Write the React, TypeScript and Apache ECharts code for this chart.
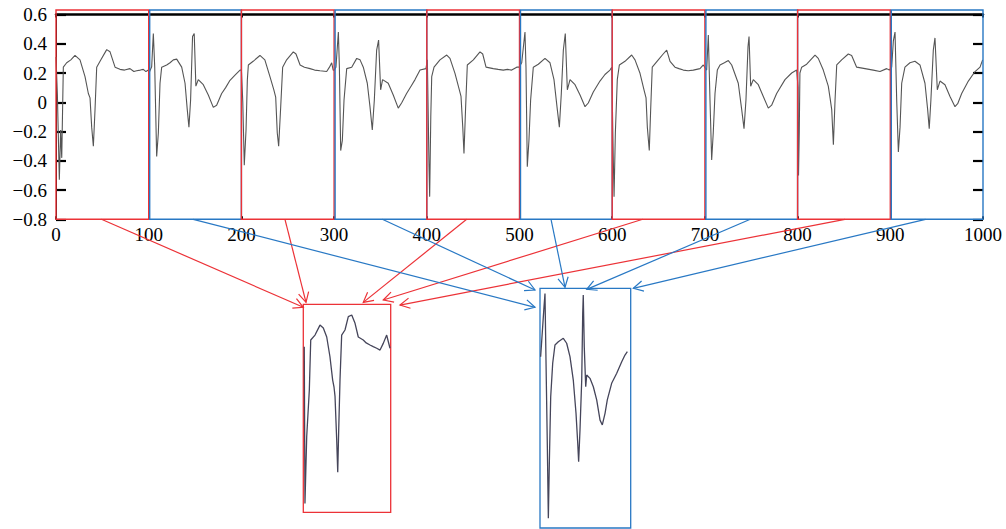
import React, { useEffect, useRef } from "react";
import * as echarts from "echarts";

// ---------- data ----------
const xMin = 0;
const xMax = 1000;
const yMin = -0.8;
const yMax = 0.6;
const windowStarts = [0, 100, 200, 300, 400, 500, 600, 700, 800, 900];
const windowKinds = [0, 1, 0, 1, 0, 1, 0, 1, 0, 1]; // 0 = red group, 1 = blue group

const beat0: [number, number][] = [[0,0.31],[1.5,0.05],[3.6,-0.53],[5,-0.19],[6.2,-0.38],[7.9,0.24],[11.5,0.27],[16,0.29],[20.5,0.32],[25.9,0.29],[31.3,0.175],[34.9,0.06],[36.7,0.03],[38.5,-0.17],[40.3,-0.3],[42.1,-0.05],[43.9,0.24],[47.5,0.28],[54.7,0.36],[58.3,0.345],[63.7,0.24],[69,0.225],[74,0.22],[79.8,0.23],[84,0.21],[87,0.215],[91,0.22],[94.2,0.225],[97,0.21],[99.7,0.22]];
const beat1: [number, number][] = [[100.3,0.2],[103.2,0.243],[105,0.47],[106.5,0.24],[108.6,-0.37],[110.4,-0.21],[112.2,0.13],[114,0.24],[119.4,0.255],[123,0.27],[126.6,0.29],[130.2,0.295],[135.6,0.24],[139.2,0.13],[141.6,-0.05],[143.4,-0.17],[145.2,0.015],[147.3,0.45],[149.1,0.47],[150.9,0.11],[153.5,0.155],[158.9,0.12],[164.3,0.05],[169.7,-0.035],[173.3,-0.02],[178.7,0.06],[183,0.1],[187.7,0.15],[193.1,0.185],[198.5,0.22]];
const beat2: [number, number][] = [[200,0.22],[201.5,0.0],[203.1,-0.43],[205,-0.19],[206.4,0.15],[207.5,0.255],[212.7,0.28],[220,0.32],[225.3,0.29],[230.8,0.175],[235,0.085],[237,0.035],[238.7,-0.21],[240.2,-0.3],[242.4,-0.03],[244.5,0.24],[248.8,0.29],[256,0.345],[258.9,0.33],[263.3,0.255],[268,0.24],[274,0.23],[279,0.22],[284.8,0.215],[292,0.21],[295,0.24],[297.4,0.27],[299,0.22]];
const beat3: [number, number][] = [[300,0.22],[302,0.24],[304.6,0.48],[305.7,0.24],[307.1,-0.33],[308.9,-0.26],[310.7,0.015],[313.6,0.23],[319,0.24],[324.4,0.3],[328,0.29],[331.5,0.24],[335.8,0.13],[338.7,-0.03],[341.2,-0.19],[343.4,0.015],[345.9,0.357],[348,0.425],[350.2,0.085],[352.3,0.155],[358.4,0.13],[363.8,0.05],[369.2,-0.04],[372.8,-0.005],[378.2,0.06],[383,0.11],[387.3,0.155],[392.7,0.22],[399.1,0.23]];
const beat4: [number, number][] = [[400.6,0.29],[402.4,-0.44],[403.1,-0.645],[404.3,-0.1],[405.3,0.175],[407.8,0.24],[414.2,0.29],[421.5,0.323],[425,0.3],[430.4,0.198],[435.1,0.085],[436.9,0.04],[438.8,-0.17],[440.1,-0.35],[441.9,-0.03],[443.7,0.255],[450.2,0.29],[457.4,0.345],[460.3,0.33],[463.9,0.24],[471.7,0.23],[477,0.225],[482.5,0.22],[487,0.225],[491.6,0.22],[497,0.24]];
const beat5: [number, number][] = [[499.5,0.24],[502.4,0.27],[505.9,0.48],[507,0.24],[508.4,-0.44],[510.2,-0.26],[512,0.015],[514.9,0.24],[520.3,0.26],[527.5,0.3],[532.9,0.27],[537.2,0.155],[540.8,-0.05],[543,-0.17],[545.1,0.06],[547.3,0.357],[549.4,0.47],[551.6,0.085],[554.5,0.155],[559.9,0.12],[565.3,0.05],[570.7,-0.03],[574.2,-0.005],[579.6,0.07],[586.8,0.145],[592.2,0.19],[597.6,0.22]];
const beat6: [number, number][] = [[599.5,0.24],[601.2,-0.395],[602,-0.645],[603.4,-0.21],[605.5,0.155],[607.7,0.255],[613.8,0.28],[621,0.323],[624.6,0.29],[630,0.198],[634.3,0.085],[636.5,0.03],[637.9,-0.17],[640,-0.33],[641.5,-0.05],[643.2,0.24],[649.7,0.29],[655,0.33],[658.8,0.357],[662.4,0.28],[667.7,0.24],[672,0.23],[676.7,0.22],[682,0.215],[687.5,0.22],[694.7,0.23],[698.3,0.255]];
const beat7: [number, number][] = [[701.9,0.22],[703.7,0.46],[705.5,0.015],[707.3,-0.395],[709,-0.21],[710.9,0.06],[713.4,0.22],[716.3,0.255],[721,0.27],[725.3,0.285],[728.9,0.255],[736,0.13],[739.7,-0.05],[742.2,-0.18],[744.3,0.015],[746.5,0.38],[747.6,0.45],[749.4,0.11],[752.2,0.155],[757.6,0.12],[763,0.04],[768.4,-0.04],[772,-0.02],[777.4,0.06],[786.4,0.155],[793.6,0.2],[799,0.22]];
const beat8: [number, number][] = [[800.5,0.1],[801,-0.5],[801.8,-0.2],[802.5,0.2],[804.4,0.24],[809.8,0.26],[818.8,0.323],[822.3,0.3],[827.7,0.22],[833.1,0.11],[835,0.03],[836.8,-0.05],[838.6,-0.29],[840.4,0.015],[842.2,0.255],[847.5,0.29],[854.7,0.33],[858.3,0.32],[863.7,0.24],[872.7,0.23],[881.6,0.22],[888.9,0.21],[896.1,0.23],[898.9,0.22]];
const beat9: [number, number][] = [[901.5,0.24],[903.3,0.42],[905.1,0.48],[906.9,0.015],[908.7,-0.34],[910.5,-0.17],[912.3,0.13],[915.8,0.24],[921.2,0.27],[926.6,0.28],[932,0.255],[937.4,0.13],[940.3,-0.05],[942,-0.18],[943.8,0.015],[946.4,0.357],[948.2,0.44],[950.7,0.085],[953.6,0.145],[959,0.12],[964.4,0.04],[969.8,-0.03],[972.7,-0.01],[977,0.06],[984.2,0.145],[991.4,0.21],[996.8,0.24],[999.6,0.29]];

// zoomed beats shown in the two insets (inset x: 0..100, y: -0.8..0.6)
const redInsetBeat: [number, number][] = [[1.1,0.315],[1.9,-0.74],[3.9,-0.29],[6.9,0.023],[8.5,0.36],[13.4,0.393],[19.1,0.46],[22.9,0.44],[26.8,0.38],[30.5,0.247],[33.6,0.09],[35.1,0.045],[36.3,-0.02],[38.2,-0.31],[39.4,-0.53],[40.5,-0.246],[42,0.09],[43.9,0.393],[47.7,0.427],[51.5,0.517],[55.4,0.528],[59.2,0.472],[62.9,0.38],[68.6,0.36],[72,0.34],[76.3,0.326],[80,0.315],[84,0.304],[87.8,0.292],[91.5,0.337],[95.4,0.393],[97.3,0.348],[99.2,0.304]];
const blueInsetBeat: [number, number][] = [[0.7,0.2],[4.4,0.49],[5.5,0.57],[6.6,0.181],[8.1,-0.325],[9.2,-0.743],[10.3,-0.42],[11.8,-0.033],[14,0.162],[16.5,0.269],[20.2,0.288],[25.7,0.308],[29.4,0.279],[33.1,0.2],[36.7,0.064],[39.7,-0.13],[41.6,-0.305],[42.6,-0.413],[44.1,-0.228],[46,0.064],[47.1,0.454],[47.7,0.561],[48.8,0.259],[50.4,0.025],[51.5,0.094],[55.1,0.074],[58.8,0.025],[62.5,-0.052],[66.2,-0.17],[68.7,-0.198],[71.7,-0.13],[74.2,-0.052],[79,0.045],[84.6,0.104],[90.1,0.171],[93.7,0.21],[96.3,0.23]];

// arrows: start on the main x axis (data x), end in inset coordinates
const redArrowFrom = [49, 247, 443, 633, 851];
const redArrowTo: [number, number][] = [[0, 0.58], [3.1, 0.613], [68.6, 0.613], [91.5, 0.629], [110.6, 0.595]];
const blueArrowFrom = [148, 352, 534, 749, 938];
const blueArrowTo: [number, number][] = [[-5.5, 0.489], [-5.5, 0.59], [27.6, 0.606], [51.5, 0.594], [102.9, 0.6]];

// ---------- styles ----------
const RED = "#ec3237";
const BLUE = "#2878c4";
const BOX_TOP = 0.631;
const FONT = "'Liberation Serif', 'Times New Roman', serif";

function fmtY(v: number) {
  if (Math.abs(v) < 1e-9) return "0";
  return v.toFixed(1).replace("-", "\u2212");
}

export default function App() {
  const ref = useRef<HTMLDivElement>(null);
  useEffect(() => {
    if (!ref.current) return;
    const chart = echarts.init(ref.current, undefined, { renderer: "svg" });
    const signal = [...beat0, ...beat1, ...beat2, ...beat3, ...beat4, ...beat5, ...beat6, ...beat7, ...beat8, ...beat9];
    const boxes = windowStarts.map((s, i) => [s, s + 100, yMin, BOX_TOP, windowKinds[i]]);

    chart.setOption({
      animation: false,
      grid: [
        { left: 56, right: 23, top: 14.5, bottom: 309.7 },
        { left: 303.3, top: 304.3, width: 87.4, height: 208, show: true, borderColor: RED, borderWidth: 1.3, backgroundColor: "transparent" },
        { left: 540, top: 288.3, width: 90.7, height: 239.7, show: true, borderColor: BLUE, borderWidth: 1.3, backgroundColor: "transparent" },
      ],
      xAxis: [
        {
          gridIndex: 0, type: "value", min: xMin, max: xMax, interval: 100, position: "bottom",
          axisLine: { show: true, onZero: false, lineStyle: { color: "#000", width: 1 } },
          axisTick: { show: true, inside: true, length: 3, lineStyle: { color: "#000", width: 2 } },
          axisLabel: { color: "#000", fontFamily: FONT, fontSize: 19, margin: 6, formatter: (v: number) => String(v) },
          splitLine: { show: false },
        },
        {
          gridIndex: 0, type: "value", min: xMin, max: xMax, interval: 100, position: "top",
          axisLine: { show: true, onZero: false, lineStyle: { color: "#000", width: 2.5 } },
          axisTick: { show: true, inside: true, length: 3, lineStyle: { color: "#000", width: 2 } },
          axisLabel: { show: false },
          splitLine: { show: false },
        },
        { gridIndex: 1, type: "value", min: 0, max: 100, show: false },
        { gridIndex: 2, type: "value", min: 0, max: 100, show: false },
      ],
      yAxis: [
        {
          gridIndex: 0, type: "value", min: yMin, max: yMax, interval: 0.2, position: "left",
          axisLine: { show: true, onZero: false, lineStyle: { color: "#000", width: 1 } },
          axisTick: { show: true, inside: true, length: 10, lineStyle: { color: "#000", width: 2.2 } },
          axisLabel: { color: "#000", fontFamily: FONT, fontSize: 19, margin: 9, formatter: fmtY },
          splitLine: { show: false },
        },
        {
          gridIndex: 0, type: "value", min: yMin, max: yMax, interval: 0.2, position: "right",
          axisLine: { show: false, onZero: false },
          axisTick: { show: true, inside: true, length: 10, lineStyle: { color: "#000", width: 2.2 } },
          axisLabel: { show: false },
          splitLine: { show: false },
        },
        { gridIndex: 1, type: "value", min: yMin, max: yMax, show: false },
        { gridIndex: 2, type: "value", min: yMin, max: yMax, show: false },
      ],
      series: [
        {
          type: "line", xAxisIndex: 0, yAxisIndex: 0, data: signal, showSymbol: false, silent: true,
          lineStyle: { color: "#555555", width: 1.1 }, z: 2,
        },
        {
          type: "custom", xAxisIndex: 0, yAxisIndex: 0, data: boxes, clip: false, silent: true, z: 3,
          encode: { x: [0, 1], y: [2, 3] },
          renderItem: (params: any, api: any) => {
            const s = api.value(0), e = api.value(1), kind = api.value(4);
            const p0 = api.coord([s, api.value(2)]);
            const p1 = api.coord([e, api.value(3)]);
            const off = kind === 1 ? 1 : 0;
            return {
              type: "rect",
              shape: { x: p0[0] + off, y: p1[1], width: p1[0] - p0[0] - off, height: p0[1] - p1[1] },
              style: { fill: "none", stroke: kind === 1 ? BLUE : RED, lineWidth: 1.4 },
            };
          },
        },
        {
          type: "line", xAxisIndex: 2, yAxisIndex: 2, data: redInsetBeat, showSymbol: false, silent: true,
          lineStyle: { color: "#45455a", width: 1.3 },
        },
        {
          type: "line", xAxisIndex: 3, yAxisIndex: 3, data: blueInsetBeat, showSymbol: false, silent: true,
          lineStyle: { color: "#45455a", width: 1.3 },
        },
      ],
    });

    const L = 11;
    const th = (28 * Math.PI) / 180;
    const graphics: any[] = [];
    const addArrow = (from: number[], to: number[], color: string) => {
      const [x0, y0] = from;
      const [x1, y1] = to;
      const a = Math.atan2(y1 - y0, x1 - x0);
      graphics.push({
        type: "line", silent: true, z: 10,
        shape: { x1: x0, y1: y0, x2: x1, y2: y1 },
        style: { stroke: color, lineWidth: 1.2 },
      });
      graphics.push({
        type: "polyline", silent: true, z: 10,
        shape: {
          points: [
            [x1 - L * Math.cos(a - th), y1 - L * Math.sin(a - th)],
            [x1, y1],
            [x1 - L * Math.cos(a + th), y1 - L * Math.sin(a + th)],
          ],
        },
        style: { stroke: color, fill: "none", lineWidth: 1.2 },
      });
    };
    redArrowFrom.forEach((xv, i) => {
      const p0 = chart.convertToPixel({ gridIndex: 0 }, [xv, yMin]) as number[];
      const p1 = chart.convertToPixel({ gridIndex: 1 }, redArrowTo[i]) as number[];
      addArrow(p0, p1, RED);
    });
    blueArrowFrom.forEach((xv, i) => {
      const p0 = chart.convertToPixel({ gridIndex: 0 }, [xv, yMin]) as number[];
      const p1 = chart.convertToPixel({ gridIndex: 2 }, blueArrowTo[i]) as number[];
      addArrow(p0, p1, BLUE);
    });
    chart.setOption({ graphic: graphics });

    return () => chart.dispose();
  }, []);

  return (
    <div
      ref={ref}
      style={{ position: "absolute", left: 0, top: 0, width: 1006, height: 529, background: "#fff" }}
    />
  );
}
